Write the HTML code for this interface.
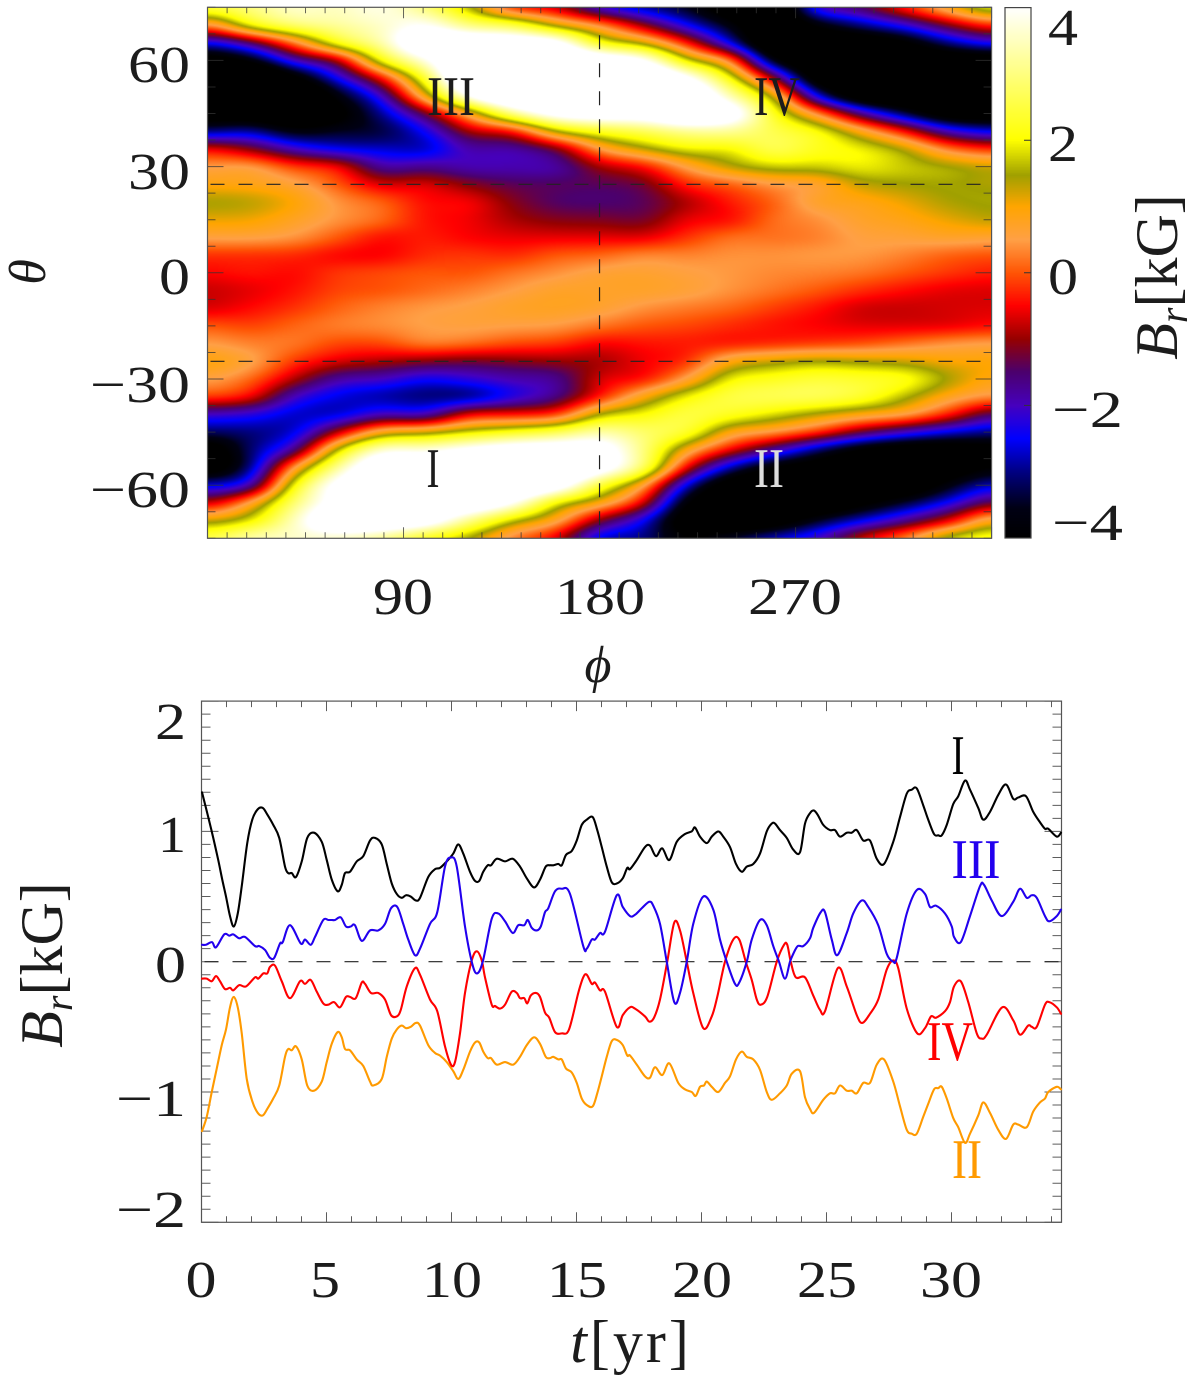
<!DOCTYPE html>
<html lang="en">
<head>
<meta charset="utf-8">
<title>Br field map and time series</title>
<style>
html,body{margin:0;padding:0;background:#fff;}
#page{position:relative;width:1200px;height:1380px;overflow:hidden;background:#fff;}
canvas{position:absolute;display:block;}
svg{position:absolute;left:0;top:0;}
text{font-family:"Liberation Serif",serif;fill:#1c1c1c;}
.tk{font-size:52px;}
.mk{font-size:56px;}
.ti{font-size:60px;}
</style>
</head>
<body>
<div id="page">
<canvas id="map" width="784" height="531" style="left:208px;top:7px"></canvas>
<canvas id="cbar" width="26" height="531" style="left:1005px;top:7px"></canvas>
<svg id="fig" width="1200" height="1380" viewBox="0 0 1200 1380">
  <g id="mapAxes"></g>
  <g id="lineAxes"></g>
  <g id="lines"></g>

  <g>
    <text class="tk" x="190" y="82" text-anchor="end" textLength="62" lengthAdjust="spacingAndGlyphs">60</text>
    <text class="tk" x="190" y="189" text-anchor="end" textLength="62" lengthAdjust="spacingAndGlyphs">30</text>
    <text class="tk" x="190" y="294" text-anchor="end" textLength="31" lengthAdjust="spacingAndGlyphs">0</text>
    <text class="tk" x="190" y="402" text-anchor="end" textLength="100" lengthAdjust="spacingAndGlyphs">−30</text>
    <text class="tk" x="190" y="507" text-anchor="end" textLength="100" lengthAdjust="spacingAndGlyphs">−60</text>
  </g>
  <g>
    <text class="tk" x="403" y="614" text-anchor="middle" textLength="60" lengthAdjust="spacingAndGlyphs">90</text>
    <text class="tk" x="600" y="614" text-anchor="middle" textLength="90" lengthAdjust="spacingAndGlyphs">180</text>
    <text class="tk" x="795" y="614" text-anchor="middle" textLength="94" lengthAdjust="spacingAndGlyphs">270</text>
  </g>
  <text class="ti" font-style="italic" transform="translate(45,272) rotate(-90)" text-anchor="middle" style="font-size:52px">θ</text>
  <text class="ti" font-style="italic" x="598" y="682" text-anchor="middle" style="font-size:52px">ϕ</text>

  <g>
    <text class="mk" x="451" y="115" text-anchor="middle" textLength="48" lengthAdjust="spacingAndGlyphs">III</text>
    <text class="mk" x="777" y="115" text-anchor="middle" textLength="46" lengthAdjust="spacingAndGlyphs">IV</text>
    <text class="mk" x="433" y="487" text-anchor="middle" textLength="13" lengthAdjust="spacingAndGlyphs">I</text>
    <text class="mk" x="769" y="487" text-anchor="middle" textLength="30" lengthAdjust="spacingAndGlyphs" style="fill:#dcdcdc">II</text>
  </g>

  <g>
    <text class="tk" x="1048" y="45" textLength="30" lengthAdjust="spacingAndGlyphs">4</text>
    <text class="tk" x="1048" y="161" textLength="30" lengthAdjust="spacingAndGlyphs">2</text>
    <text class="tk" x="1048" y="294" textLength="30" lengthAdjust="spacingAndGlyphs">0</text>
    <text class="tk" x="1052" y="427" textLength="71" lengthAdjust="spacingAndGlyphs">−2</text>
    <text class="tk" x="1052" y="540" textLength="71" lengthAdjust="spacingAndGlyphs">−4</text>
  </g>
  <text class="ti" transform="translate(1177,277) rotate(-90)" text-anchor="middle"><tspan font-style="italic">B</tspan><tspan font-style="italic" dy="10" style="font-size:40px">r</tspan><tspan dy="-10">[kG]</tspan></text>

  <g>
    <text class="tk" x="186" y="739" text-anchor="end" textLength="31" lengthAdjust="spacingAndGlyphs">2</text>
    <text class="tk" x="186" y="852" text-anchor="end" textLength="28" lengthAdjust="spacingAndGlyphs">1</text>
    <text class="tk" x="186" y="982" text-anchor="end" textLength="31" lengthAdjust="spacingAndGlyphs">0</text>
    <text class="tk" x="186" y="1116" text-anchor="end" textLength="70" lengthAdjust="spacingAndGlyphs">−1</text>
    <text class="tk" x="186" y="1227" text-anchor="end" textLength="70" lengthAdjust="spacingAndGlyphs">−2</text>
  </g>
  <g>
    <text class="tk" x="201" y="1297" text-anchor="middle" textLength="31" lengthAdjust="spacingAndGlyphs">0</text>
    <text class="tk" x="325" y="1297" text-anchor="middle" textLength="30" lengthAdjust="spacingAndGlyphs">5</text>
    <text class="tk" x="452" y="1297" text-anchor="middle" textLength="60" lengthAdjust="spacingAndGlyphs">10</text>
    <text class="tk" x="577" y="1297" text-anchor="middle" textLength="60" lengthAdjust="spacingAndGlyphs">15</text>
    <text class="tk" x="702" y="1297" text-anchor="middle" textLength="60" lengthAdjust="spacingAndGlyphs">20</text>
    <text class="tk" x="827" y="1297" text-anchor="middle" textLength="60" lengthAdjust="spacingAndGlyphs">25</text>
    <text class="tk" x="951" y="1297" text-anchor="middle" textLength="62" lengthAdjust="spacingAndGlyphs">30</text>
  </g>
  <text class="ti" x="631" y="1362" text-anchor="middle" letter-spacing="3"><tspan font-style="italic">t</tspan>[yr]</text>
  <text class="ti" transform="translate(62,965) rotate(-90)" text-anchor="middle"><tspan font-style="italic">B</tspan><tspan font-style="italic" dy="10" style="font-size:40px">r</tspan><tspan dy="-10">[kG]</tspan></text>

  <g>
    <text class="mk" x="958" y="774" text-anchor="middle" textLength="13" lengthAdjust="spacingAndGlyphs" style="fill:#000">I</text>
    <text class="mk" x="976" y="878" text-anchor="middle" textLength="49" lengthAdjust="spacingAndGlyphs" style="fill:#2200ee">III</text>
    <text class="mk" x="950" y="1060" text-anchor="middle" textLength="46" lengthAdjust="spacingAndGlyphs" style="fill:#f00">IV</text>
    <text class="mk" x="967" y="1178" text-anchor="middle" textLength="30" lengthAdjust="spacingAndGlyphs" style="fill:#ff9a00">II</text>
  </g>
</svg>
</div>
<script>
// ---- Heatmap data: Br in kG on a phi / theta grid ----
const phiGrid = [0,20,40,60,80,100,120,140,160,180,200,220,240,260,280,300,320,340,360];
const thetaGrid = [75,70,65,60,55,50,45,40,35,30,25,20,15,10,5,0,-5,-10,-15,-20,-25,-30,-35,-40,-45,-50,-55,-60,-65,-70,-75];
const fieldPhi000 = [2.4,.3,-2.5,-4.5,-5.5,-5.5,-4.6,-3,-.6,.45,.9,1.4,1.1,.55,-.2,-.5,-.75,-.65,0,.5,.9,.55,-.2,-2,-3.2,-4.5,-4.5,-2.7,-.8,1.2,2.5];
const fieldPhi020 = [3,1.9,-1.4,-3.8,-5.5,-5.5,-4.6,-2.9,-1.1,.45,.85,1.3,1.05,.55,-.2,-.4,-.6,-.45,-.1,.3,.55,.1,-.6,-2.2,-3,-3.1,-2.9,-1.8,.6,1.9,3.3];
const fieldPhi040 = [3.6,2.8,.3,-2,-4.2,-5.3,-5,-3.7,-2,-.2,.6,.95,.75,.4,-.25,-.45,-.4,-.2,.1,.2,-.2,-.9,-2,-2.7,-2.6,-1.6,.5,2,2.9,3.5,3.6];
const fieldPhi060 = [3.5,3.2,2.1,-.8,-2.4,-3.7,-4.2,-3.5,-2.5,-.6,0,.4,.4,0,-.45,-.2,-.1,.1,.25,-.1,-.7,-1.8,-2.6,-2.6,-.8,1.6,3.2,4.3,4.5,5,3.6];
const fieldPhi080 = [3.8,3.6,3.3,2,-.4,-2,-2.9,-3.3,-2.7,-1.8,-.7,.05,.1,-.4,-.5,-.1,0,.3,.35,-.1,-.9,-2,-2.8,-1.9,.9,3.6,5,5,5,5,3.2];
const fieldPhi100 = [3,4,5,3.8,2.4,1,-1.2,-2.4,-2.7,-1.7,-.7,-.45,-.4,-.35,-.25,0,.15,.45,.5,.2,-1.1,-2.4,-3,-1.9,1.2,3.7,5,5,5,4.5,2.3];
const fieldPhi120 = [1.6,3,5,5.5,5.5,4,.9,-.9,-1.85,-1.9,-1.1,-.55,-.55,-.5,-.2,0,.3,.55,.55,.1,-1.2,-2.2,-2.85,-.6,1.8,4.2,5.5,5.5,5,3.1,1.5];
const fieldPhi140 = [-.1,2.5,4.8,5.5,5.5,5.3,3,-.3,-1.8,-1.9,-1.4,-1.1,-.9,-.6,-.25,.2,.5,.7,.5,-.1,-1.1,-1.9,-2.2,-.4,2.2,4.6,5.5,5.5,4,1.7,.3];
const fieldPhi160 = [-.7,1.3,4.3,5.5,5.5,5.5,4.3,1.5,-1.1,-1.8,-1.45,-1.45,-1.1,-.6,0,.4,.7,.75,.45,-.2,-1,-1.7,-1.6,-.1,2.6,4.7,5.5,4.6,2,.7,-.6];
const fieldPhi180 = [-2,.3,2.2,4.8,5.5,5.5,4.6,2.3,.5,-.9,-1.4,-1.5,-1.15,-.6,.1,.6,.7,.65,.2,-.5,-.9,-.7,-.3,1.5,3.3,4.5,4.5,2.5,.9,-1.1,-2.6];
const fieldPhi200 = [-2.8,-1,1.3,4.1,5.5,5.5,4.6,2.7,1.3,-.4,-1.2,-1.4,-1.2,-.6,.3,.65,.7,.4,0,-.4,-.55,-.35,.9,2,2.8,3,2.7,.7,-.7,-2.4,-3];
const fieldPhi220 = [-3.5,-2.4,-.4,1.8,4.2,5.3,5.3,3.2,1.9,.6,-.3,-.85,-.6,-.2,.3,.55,.6,.25,-.1,-.35,-.2,.6,1.9,2.5,2.3,.9,-.6,-2.6,-3.9,-4.5,-4];
const fieldPhi240 = [-4.5,-3.7,-2.5,.2,2,3.4,4.5,3.2,2,1.3,.1,-.35,-.4,.15,.4,.45,.4,.1,-.25,-.3,.9,1.9,2.5,2.2,.9,-.6,-2.8,-4.5,-5,-5,-3.5];
const fieldPhi260 = [-5,-5,-5,-3.6,-1,1.2,2.2,2.6,2.6,1.7,.5,.1,.15,.2,.4,.35,.2,-.15,-.4,-.2,1.25,2.2,2.6,1.8,.4,-1.8,-4,-5,-5,-4.5,-2.8];
const fieldPhi280 = [-2.2,-3.8,-5,-5,-4.4,-2.5,.3,2,2.2,1.7,.7,.7,.4,.3,.45,.3,0,-.4,-.5,-.1,1.45,2.4,2.6,1.35,-.3,-3,-4.5,-5,-5,-3.5,-2.1];
const fieldPhi300 = [-1.5,-3,-4.7,-5,-5,-4.5,-1.7,.8,1.9,1.9,1.3,.85,.7,.55,.45,.2,-.25,-.7,-.6,0,1.35,2.3,2.3,.9,-1.3,-4,-5,-5,-4.2,-2.6,-.8];
const fieldPhi320 = [-.4,-2.2,-4.1,-5,-5,-5,-3.2,-.5,1.3,1.7,1.45,1.1,.85,.6,.3,0,-.45,-.75,-.6,.2,1.25,2.1,1.6,.5,-2,-4.5,-5,-4.8,-3.4,-1.7,.2];
const fieldPhi340 = [.8,-1.1,-3,-4.7,-5,-5,-4.4,-2,.2,1.45,1.5,1.4,1.1,.7,.1,-.2,-.6,-.7,-.55,.4,1,1.4,.8,-.4,-2.6,-4.5,-4.6,-3.7,-2.4,-.6,1.6];
const fieldPhi360 = [1.9,-.2,-2.3,-4.5,-5,-5,-4.5,-2.6,-.3,1.2,1.4,1.5,1.3,.65,0,-.35,-.65,-.65,-.4,.5,.95,.85,.3,-1.5,-3,-4.2,-3.9,-2.7,-1.2,.9,2.2];
const fieldColumns = [fieldPhi000,fieldPhi020,fieldPhi040,fieldPhi060,fieldPhi080,fieldPhi100,fieldPhi120,fieldPhi140,fieldPhi160,fieldPhi180,fieldPhi200,fieldPhi220,fieldPhi240,fieldPhi260,fieldPhi280,fieldPhi300,fieldPhi320,fieldPhi340,fieldPhi360];

// ---- Colour table: Br level and the colour at that level ----
const cmapLevels = [-4,-3.55,-3,-2.5,-2,-1.5,-1,-.5,0,.5,1,1.47,2,4];
const cmapR = [0,0,0,0,70,75,150,255,255,255,255,160,255,255];
const cmapG = [0,0,0,0,0,0,0,0,85,160,165,160,255,255];
const cmapB = [0,20,130,255,190,110,0,0,5,70,0,0,0,255];

// ---- Time series: times (yr) and Br (kG) ----
const tI = [.02,.27,.47,.67,.83,.98,1.14,1.29,1.45,1.61,1.83,2.03,2.25,2.45,2.63,2.87,3.11,3.34,3.47,3.61,3.78,4.01,4.23,4.5,4.81,5.01,5.21,5.45,5.61,5.74,5.94,6.21,6.47,6.74,6.94,7.21,7.41,7.61,7.81,8.01,8.18,8.37,8.57,8.74,9.07,9.34,9.54,9.81,10.07,10.27,10.47,10.74,10.94,11.11,11.27,11.45,11.58,11.81,12.14,12.45,12.74,13.01,13.3,13.54,13.77,13.94,14.07,14.27,14.41,14.58,14.81,15.01,15.21,15.41,15.65,15.83,16.01,16.21,16.41,16.61,16.85,17.03,17.14,17.41,17.74,17.94,18.18,18.43,18.71,19.01,19.34,19.61,19.74,19.94,20.21,20.41,20.67,20.87,21.14,21.38,21.61,21.81,22.07,22.34,22.61,22.81,22.94,23.14,23.41,23.67,23.94,24.14,24.34,24.5,24.67,24.87,25.14,25.34,25.54,25.81,26.01,26.21,26.47,26.74,27.01,27.3,27.67,27.94,28.21,28.41,28.61,28.87,29.05,29.3,29.47,29.61,29.81,30.07,30.27,30.54,30.74,31.07,31.27,31.54,31.87,32.18,32.47,32.67,32.98,33.27,33.54,33.74,33.87,34.21,34.38];
const brI = [1.3,1.11,.95,.78,.63,.5,.35,.27,.37,.58,.91,1.09,1.17,1.18,1.13,1.05,.95,.73,.68,.68,.65,.77,.95,.99,.92,.78,.63,.54,.59,.68,.69,.77,.81,.93,.95,.9,.75,.6,.52,.49,.51,.5,.47,.49,.65,.71,.72,.77,.83,.9,.83,.69,.62,.62,.69,.74,.74,.79,.77,.79,.73,.64,.57,.63,.73,.74,.74,.75,.74,.82,.85,.93,1.05,1.09,1.11,1.01,.88,.73,.61,.6,.64,.72,.71,.78,.88,.89,.81,.87,.78,.92,.98,1,1.03,.96,.91,.96,1,.96,.88,.75,.69,.73,.75,.83,1,1.06,1.06,1.01,.95,.86,.84,1.06,1.14,1.16,1.12,1.05,1.01,1.01,.96,.99,.99,1.01,.93,.93,.79,.75,.92,1.11,1.29,1.32,1.33,1.2,1.1,.98,.97,.97,1.05,1.21,1.27,1.39,1.32,1.18,1.09,1.15,1.28,1.36,1.25,1.26,1.27,1.15,1.07,1.02,1.02,.96,.99];
const tII = [.02,.21,.41,.61,.81,.98,1.14,1.29,1.45,1.61,1.81,2.03,2.25,2.45,2.63,2.87,3.11,3.34,3.47,3.61,3.78,4.01,4.23,4.5,4.81,5.01,5.21,5.45,5.61,5.74,5.94,6.21,6.47,6.74,6.87,7.21,7.41,7.61,7.81,8.01,8.18,8.37,8.57,8.74,9.07,9.34,9.54,9.81,10.07,10.27,10.47,10.74,10.94,11.11,11.27,11.45,11.58,11.81,12.14,12.47,12.74,13.01,13.3,13.54,13.77,13.94,14.07,14.27,14.41,14.58,14.81,15.01,15.21,15.41,15.65,15.83,16.01,16.21,16.41,16.61,16.85,17.03,17.14,17.41,17.74,17.94,18.14,18.43,18.71,19.07,19.34,19.61,19.77,19.94,20.1,20.21,20.41,20.67,20.94,21.14,21.38,21.61,21.81,22.07,22.34,22.61,22.81,23.14,23.41,23.61,23.94,24.14,24.34,24.5,24.87,25.14,25.34,25.54,25.81,26.01,26.21,26.47,26.74,27.01,27.3,27.67,27.94,28.21,28.41,28.61,28.87,29.07,29.3,29.47,29.61,29.81,30.07,30.27,30.54,30.74,31.07,31.27,31.54,31.87,32.18,32.47,32.67,33.01,33.27,33.54,33.74,33.87,34.21,34.38];
const brII = [-1.3,-1.19,-1,-.82,-.64,-.52,-.35,-.27,-.35,-.55,-.9,-1.07,-1.16,-1.18,-1.13,-1.05,-.95,-.73,-.67,-.68,-.65,-.75,-.95,-.99,-.92,-.77,-.63,-.54,-.58,-.67,-.68,-.75,-.8,-.92,-.95,-.9,-.73,-.59,-.52,-.49,-.51,-.5,-.47,-.49,-.64,-.7,-.72,-.77,-.84,-.9,-.83,-.69,-.62,-.62,-.69,-.74,-.74,-.79,-.77,-.79,-.73,-.64,-.58,-.63,-.73,-.74,-.73,-.75,-.75,-.82,-.85,-.93,-1.05,-1.1,-1.11,-1.01,-.88,-.73,-.61,-.6,-.64,-.72,-.72,-.79,-.88,-.89,-.81,-.87,-.78,-.93,-.98,-1,-1.03,-.96,-.95,-.92,-.96,-1,-.93,-.88,-.75,-.69,-.73,-.75,-.83,-1,-1.06,-1.01,-.95,-.86,-.84,-1.04,-1.13,-1.16,-1.06,-1.01,-1.01,-.95,-.99,-.99,-1.01,-.93,-.93,-.79,-.75,-.92,-1.11,-1.29,-1.32,-1.32,-1.19,-1.09,-.98,-.97,-.96,-1.05,-1.2,-1.27,-1.39,-1.32,-1.18,-1.08,-1.16,-1.29,-1.36,-1.25,-1.25,-1.27,-1.15,-1.08,-1.05,-1,-.96,-.98];
const tIII = [.02,.18,.42,.58,.91,1.11,1.27,1.51,1.74,2.14,2.31,2.54,2.74,2.91,3.14,3.25,3.54,3.97,4.14,4.37,4.54,4.87,5.07,5.21,5.34,5.57,5.78,5.97,6.14,6.41,6.74,7.07,7.34,7.58,7.83,8.07,8.27,8.54,8.74,9.14,9.43,9.74,9.98,10.21,10.54,10.81,11.01,11.25,11.61,11.87,12.14,12.45,12.67,12.91,13.05,13.21,13.41,13.57,13.74,13.87,14.14,14.41,14.74,15.27,15.41,15.61,15.74,15.94,16.14,16.61,16.85,17.14,17.34,17.61,17.91,18.07,18.34,18.61,18.91,19.14,19.41,19.67,20.07,20.47,20.74,21.01,21.34,21.51,21.81,22.01,22.34,22.61,22.87,23.1,23.34,23.54,23.67,23.85,24.07,24.34,24.47,24.77,24.94,25.21,25.43,25.81,26.07,26.41,26.67,27.07,27.41,27.67,27.81,28.21,28.61,28.94,29.14,29.38,29.74,30.01,30.1,30.37,30.74,31.14,31.3,31.61,32.01,32.47,32.74,33.01,33.21,33.41,33.74,33.91,34.21,34.38];
const brIII = [.13,.13,.15,.11,.21,.2,.21,.18,.19,.12,.12,.09,.03,.03,.14,.15,.28,.14,.17,.13,.19,.32,.32,.32,.32,.34,.27,.27,.28,.16,.24,.24,.29,.41,.42,.29,.17,.05,.1,.29,.38,.73,.8,.73,.27,0,-.09,0,.33,.37,.31,.22,.28,.28,.32,.26,.24,.27,.38,.41,.54,.56,.52,.12,.1,.17,.17,.22,.23,.51,.42,.35,.36,.41,.46,.43,.29,0,-.31,-.24,0,.29,.5,.4,.17,0,-.17,-.16,0,.17,.32,.28,.12,0,-.13,0,.06,.12,.12,.18,.26,.38,.38,.17,.05,.22,.37,.47,.42,.28,.06,0,.03,.37,.55,.52,.42,.43,.37,.27,.19,.15,.35,.58,.59,.47,.35,.46,.56,.49,.51,.49,.35,.31,.35,.4];
const tIV = [.02,.21,.41,.58,.74,.94,1.14,1.27,1.51,1.78,2.14,2.27,2.47,2.63,2.74,2.94,3.21,3.54,3.94,4.14,4.37,4.61,4.87,5.07,5.3,5.54,5.78,5.94,6.17,6.41,6.54,6.78,7.07,7.34,7.58,7.81,7.97,8.21,8.54,8.74,9.14,9.43,9.74,9.98,10.14,10.34,10.54,10.81,11.01,11.21,11.34,11.61,11.74,11.94,12.14,12.41,12.61,12.74,12.91,13.03,13.17,13.37,13.54,13.74,13.91,14.14,14.41,14.7,15.07,15.27,15.41,15.61,15.74,15.94,16.14,16.61,16.85,17.14,17.34,17.74,17.91,18.1,18.34,18.63,18.91,19.14,19.41,19.67,20.07,20.41,20.63,20.94,21.27,21.51,21.77,22.01,22.21,22.37,22.63,23.01,23.3,23.43,23.57,23.77,24.14,24.47,24.74,24.94,25.45,25.81,26.21,26.43,26.74,27.07,27.41,27.67,27.87,28.21,28.63,28.94,29.18,29.38,29.74,29.94,30.1,30.37,30.67,31.01,31.21,31.41,32.03,32.47,32.74,33.07,33.21,33.41,33.74,33.91,34.21,34.38];
const brIV = [-.13,-.13,-.15,-.11,-.15,-.21,-.2,-.22,-.18,-.19,-.12,-.13,-.09,-.09,-.04,-.03,-.15,-.28,-.15,-.17,-.14,-.23,-.32,-.33,-.31,-.35,-.27,-.27,-.28,-.16,-.17,-.24,-.24,-.29,-.41,-.42,-.37,-.19,-.05,-.1,-.29,-.38,-.65,-.79,-.77,-.55,-.24,.01,.08,.01,-.12,-.33,-.34,-.36,-.33,-.23,-.24,-.28,-.28,-.32,-.26,-.24,-.27,-.39,-.43,-.54,-.55,-.52,-.24,-.12,-.1,-.17,-.16,-.22,-.23,-.5,-.41,-.35,-.36,-.42,-.46,-.43,-.29,0,.3,.24,0,-.24,-.51,-.42,-.27,0,.17,.17,0,-.14,-.29,-.33,-.27,0,.13,.13,0,-.12,-.12,-.26,-.37,-.38,-.05,-.19,-.41,-.47,-.4,-.29,-.06,.01,-.05,-.36,-.55,-.51,-.42,-.43,-.38,-.31,-.19,-.15,-.31,-.55,-.59,-.56,-.35,-.45,-.56,-.49,-.5,-.5,-.33,-.31,-.35,-.4];

// ---- Axis functions ----
const phiToX = p => 207.5 + p * 2.178;
const thetaToY = th => 272.8 - th * 3.54;
const timeToX = t => 201.5 + t * 25;
const brToY = b => 961.7 - b * 130.3;
const barToY = v => 272.8 - v * 66.3;

const NS = 'http://www.w3.org/2000/svg';
function svgEl(tag, attrs, parent){
  const e = document.createElementNS(NS, tag);
  for (const k in attrs) e.setAttribute(k, attrs[k]);
  parent.appendChild(e);
  return e;
}

function colorAt(v){
  const L = cmapLevels, n = L.length;
  if (v <= L[0]) return [cmapR[0], cmapG[0], cmapB[0]];
  if (v >= L[n-1]) return [cmapR[n-1], cmapG[n-1], cmapB[n-1]];
  let i = 0;
  while (v > L[i+1]) i++;
  const f = (v - L[i]) / (L[i+1] - L[i]);
  return [cmapR[i] + (cmapR[i+1]-cmapR[i])*f, cmapG[i] + (cmapG[i+1]-cmapG[i])*f, cmapB[i] + (cmapB[i+1]-cmapB[i])*f];
}

function cubic(a,b,c,d,s){
  return b + .5*s*(c-a + s*(2*a-5*b+4*c-d + s*(3*(b-c)+d-a)));
}

function locate(grid, value){
  let i = 0;
  const asc = grid[1] > grid[0];
  while (i < grid.length-2 && (asc ? value > grid[i+1] : value < grid[i+1])) i++;
  const f = (value - grid[i]) / (grid[i+1] - grid[i]);
  return [i, Math.max(0, Math.min(1, f))];
}

// Running-mean smoothing along a stride through a buffer, clamped at the ends.
function boxPass(src, dst, count, lines, stride, lineStride, r){
  for (let l = 0; l < lines; l++){
    const base = l * lineStride;
    let sum = 0;
    for (let k = -r; k <= r; k++) sum += src[base + Math.max(0, Math.min(count-1, k)) * stride];
    for (let i = 0; i < count; i++){
      dst[base + i * stride] = sum / (2*r+1);
      sum += src[base + Math.min(count-1, i+r+1) * stride] - src[base + Math.max(0, i-r) * stride];
    }
  }
}

function drawHeatmap(){
  const cv = document.getElementById('map');
  const ctx = cv.getContext('2d');
  const W = cv.width, H = cv.height;
  const img = ctx.createImageData(W, H);
  const nc = phiGrid.length, nr = thetaGrid.length;
  const yLoc = [];
  for (let py = 0; py < H; py++){
    const th = (272.8 - (7 + py + .5)) / 3.54;
    yLoc.push(locate(thetaGrid, th));
  }
  let vals = new Float32Array(W * H);
  let tmp = new Float32Array(W * H);
  for (let px = 0; px < W; px++){
    const phi = (208 + px + .5 - 207.5) / 2.178;
    const [ci, cf] = locate(phiGrid, phi);
    const c0 = fieldColumns[Math.max(0, ci-1)], c1 = fieldColumns[ci], c2 = fieldColumns[ci+1], c3 = fieldColumns[Math.min(nc-1, ci+2)];
    for (let py = 0; py < H; py++){
      const [ri, rf] = yLoc[py];
      const r0 = Math.max(0, ri-1), r2 = ri+1, r3 = Math.min(nr-1, ri+2);
      const a = cubic(c0[r0], c1[r0], c2[r0], c3[r0], cf);
      const b = cubic(c0[ri], c1[ri], c2[ri], c3[ri], cf);
      const c = cubic(c0[r2], c1[r2], c2[r2], c3[r2], cf);
      const d = cubic(c0[r3], c1[r3], c2[r3], c3[r3], cf);
      vals[py * W + px] = cubic(a, b, c, d, rf);
    }
  }
  for (let pass = 0; pass < 3; pass++){
    boxPass(vals, tmp, W, H, 1, W, 9);
    const swap = vals; vals = tmp; tmp = swap;
  }
  boxPass(vals, tmp, H, W, W, 1, 2);
  vals = tmp;
  for (let i = 0; i < W * H; i++){
    const col = colorAt(vals[i]);
    img.data[i*4] = col[0];
    img.data[i*4+1] = col[1];
    img.data[i*4+2] = col[2];
    img.data[i*4+3] = 255;
  }
  ctx.putImageData(img, 0, 0);
}

function drawColorbar(){
  const cv = document.getElementById('cbar');
  const ctx = cv.getContext('2d');
  for (let py = 0; py < cv.height; py++){
    const v = (272.8 - (7 + py + .5)) / 66.3;
    const c = colorAt(v);
    ctx.fillStyle = 'rgb(' + Math.round(c[0]) + ',' + Math.round(c[1]) + ',' + Math.round(c[2]) + ')';
    ctx.fillRect(0, py, cv.width, 1);
  }
}

function drawMapAxes(){
  const g = document.getElementById('mapAxes');
  const L = phiToX(0), R = phiToX(360), T = thetaToY(75), B = thetaToY(-75);
  let d = '';
  for (let k = 0; k <= 40; k++){
    const p = k * 9, x = phiToX(p), len = p % 90 === 0 ? 11 : 6;
    d += 'M' + x + ' ' + T + 'v' + len + 'M' + x + ' ' + B + 'v' + (-len);
  }
  for (let k = -10; k <= 10; k++){
    const th = k * 7.5, y = thetaToY(th), len = k % 4 === 0 ? 16 : 8;
    d += 'M' + L + ' ' + y + 'h' + len + 'M' + R + ' ' + y + 'h' + (-len);
  }
  const ticks = svgEl('path', {d: d, fill: 'none', stroke: '#333', 'stroke-width': 1, opacity: .75}, g);
  
  
  const frame = svgEl('rect', {x: L, y: T, width: R-L, height: B-T, fill: 'none', stroke: '#555', 'stroke-width': 1.2}, g);
  
  
  const dash = {fill: 'none', stroke: '#222', 'stroke-width': 1.2, 'stroke-dasharray': '14 14'};
  const h1 = svgEl('path', Object.assign({d: 'M' + (L+3) + ' ' + thetaToY(25) + 'H' + R}, dash), g);
  
  
  const h2 = svgEl('path', Object.assign({d: 'M' + (L+3) + ' ' + thetaToY(-25) + 'H' + R}, dash), g);
  
  
  const v1 = svgEl('path', Object.assign({d: 'M' + phiToX(180) + ' ' + T + 'V' + B}, dash), g);
  
  
  const cf = svgEl('rect', {x: 1005, y: barToY(4), width: 26, height: barToY(-4)-barToY(4), fill: 'none', stroke: '#444', 'stroke-width': 1.2}, g);
  
  
  let cd = '';
  for (const v of [-2, 0, 2]) cd += 'M1031 ' + barToY(v) + 'h-7';
  const ct = svgEl('path', {d: cd, stroke: '#333', 'stroke-width': 1, fill: 'none'}, g);
  
  
}

function drawLineAxes(){
  const g = document.getElementById('lineAxes');
  const L = timeToX(0), R = timeToX(34.4), T = brToY(2), B = brToY(-2);
  let d = '';
  for (let t = 0; t <= 34; t++){
    const x = timeToX(t), len = t % 5 === 0 ? 10 : 6;
    d += 'M' + x + ' ' + T + 'v' + len + 'M' + x + ' ' + B + 'v' + (-len);
  }
  for (let k = -20; k <= 20; k++){
    const y = brToY(k / 10), len = k % 10 === 0 ? 17 : 9;
    d += 'M' + L + ' ' + y + 'h' + len + 'M' + R + ' ' + y + 'h' + (-len);
  }
  const ticks = svgEl('path', {d: d, fill: 'none', stroke: '#333', 'stroke-width': 1, opacity: .8}, g);
  
  
  const frame = svgEl('rect', {x: L, y: T, width: R-L, height: B-T, fill: 'none', stroke: '#555', 'stroke-width': 1.2}, g);
  
  
  const zero = svgEl('path', {d: 'M' + (L+3) + ' ' + brToY(0) + 'H' + R, fill: 'none', stroke: '#222', 'stroke-width': 1.2, 'stroke-dasharray': '14 14'}, g);
  
  
}

// Rounded line through every reading (Catmull-Rom segments as cubic Beziers).
function drawSeries(ts, vals, color, name){
  const X = ts.map(timeToX), Y = vals.map(brToY), n = ts.length;
  let d = 'M' + X[0].toFixed(2) + ' ' + Y[0].toFixed(2);
  for (let i = 0; i < n-1; i++){
    const a = Math.max(0, i-1), c = i+1, e = Math.min(n-1, i+2);
    const x1 = X[i] + (X[c]-X[a])/6, y1 = Y[i] + (Y[c]-Y[a])/6;
    const x2 = X[c] - (X[e]-X[i])/6, y2 = Y[c] - (Y[e]-Y[i])/6;
    d += 'C' + x1.toFixed(2) + ' ' + y1.toFixed(2) + ' ' + x2.toFixed(2) + ' ' + y2.toFixed(2) + ' ' + X[c].toFixed(2) + ' ' + Y[c].toFixed(2);
  }
  const line = svgEl('path', {d: d, fill: 'none', stroke: color, 'stroke-width': 2.1, 'stroke-linejoin': 'round', 'stroke-linecap': 'round'}, document.getElementById('lines'));
  
  
}

drawHeatmap();
drawColorbar();
drawMapAxes();
drawLineAxes();
drawSeries(tI, brI, '#000000', 'series-i-line');
drawSeries(tII, brII, '#ff9a00', 'series-ii-line');
drawSeries(tIV, brIV, '#ff0000', 'series-iv-line');
drawSeries(tIII, brIII, '#2200ee', 'series-iii-line');
</script>
</body>
</html>
